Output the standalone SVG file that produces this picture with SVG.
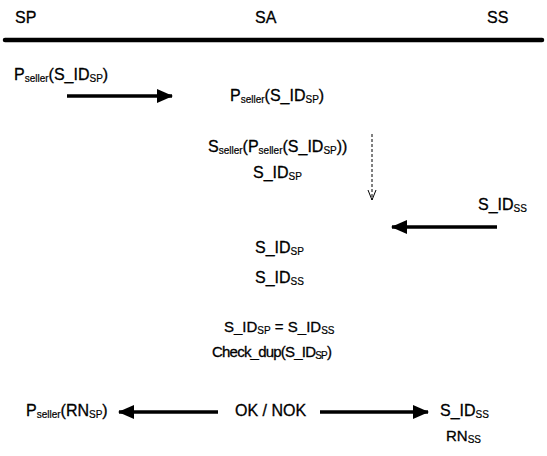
<svg xmlns="http://www.w3.org/2000/svg" width="547" height="456" viewBox="0 0 547 456">
<defs>
<style>
text{font-family:"Liberation Sans",Arial,sans-serif;font-size:16px;fill:#000;stroke:#000;stroke-width:0.3}
.s{font-size:10px;stroke-width:0.2}
.m{font-size:15px}
.c{stroke:#000;stroke-width:3.5;fill:none}
.d{stroke:#000;stroke-width:1;fill:none;stroke-dasharray:3,2}
</style>
<marker id="ah" viewBox="0 0 16 14" refX="15" refY="7" markerWidth="16" markerHeight="14" markerUnits="userSpaceOnUse" orient="auto"><path d="M0,0 L16,7 L0,14 Z" fill="#000"/></marker>
<marker id="oh" viewBox="0 0 10 12" refX="5" refY="11" markerWidth="10" markerHeight="12" markerUnits="userSpaceOnUse" orient="0"><path d="M1,1 L5,11 L9,1" stroke="#000" stroke-width="1" fill="none"/></marker>
</defs>
<g id="headers">
<text x="15" y="23">SP</text>
<text x="255" y="23">SA</text>
<text x="487" y="23">SS</text>
<line x1="5" y1="40" x2="542" y2="40" stroke="#000" stroke-width="4.5" stroke-linecap="round"/>
</g>
<g id="connectors">
<line class="c" x1="67" y1="96" x2="172" y2="96" marker-end="url(#ah)"/>
<line class="d" x1="372" y1="134" x2="372" y2="200" marker-end="url(#oh)"/>
<line class="c" x1="497" y1="227" x2="392" y2="227" marker-end="url(#ah)"/>
<line class="c" x1="218" y1="412" x2="119" y2="412" marker-end="url(#ah)"/>
<line class="c" x1="320" y1="412" x2="428" y2="412" marker-end="url(#ah)"/>
</g>
<g id="n1"><text x="14" y="80">P<tspan class="s" dy="2">seller</tspan><tspan dy="-2">(S_ID</tspan><tspan class="s" dy="2">SP</tspan><tspan dy="-2">)</tspan></text></g>
<g id="n2"><text x="230" y="101">P<tspan class="s" dy="2">seller</tspan><tspan dy="-2">(S_ID</tspan><tspan class="s" dy="2">SP</tspan><tspan dy="-2">)</tspan></text></g>
<g id="n3">
<text x="208" y="152">S<tspan class="s" dy="2">seller</tspan><tspan dy="-2">(P</tspan><tspan class="s" dy="2">seller</tspan><tspan dy="-2">(S_ID</tspan><tspan class="s" dy="2">SP</tspan><tspan dy="-2">))</tspan></text>
<text x="253" y="178">S_ID<tspan class="s" dy="2">SP</tspan></text>
</g>
<g id="n4"><text x="478" y="210">S_ID<tspan class="s" dy="2">SS</tspan></text></g>
<g id="n5">
<text x="255" y="253">S_ID<tspan class="s" dy="2">SP</tspan></text>
<text x="255" y="283">S_ID<tspan class="s" dy="2">SS</tspan></text>
</g>
<g id="n6">
<text class="m" x="224" y="332">S_ID<tspan class="s" dy="2">SP</tspan><tspan dy="-2"> = S_ID</tspan><tspan class="s" dy="2">SS</tspan></text>
<text class="m" x="212" y="357" textLength="120" lengthAdjust="spacing">Check_dup(S_ID<tspan class="s" dy="2">SP</tspan><tspan dy="-2">)</tspan></text>
</g>
<g id="n7"><text x="26" y="416">P<tspan class="s" dy="2">seller</tspan><tspan dy="-2">(RN</tspan><tspan class="s" dy="2">SP</tspan><tspan dy="-2">)</tspan></text></g>
<g id="n8"><text x="235" y="416">OK / NOK</text></g>
<g id="n9">
<text x="440" y="416">S_ID<tspan class="s" dy="2">SS</tspan></text>
<text class="m" x="446" y="441">RN<tspan class="s" dy="2">SS</tspan></text>
</g>
</svg>
